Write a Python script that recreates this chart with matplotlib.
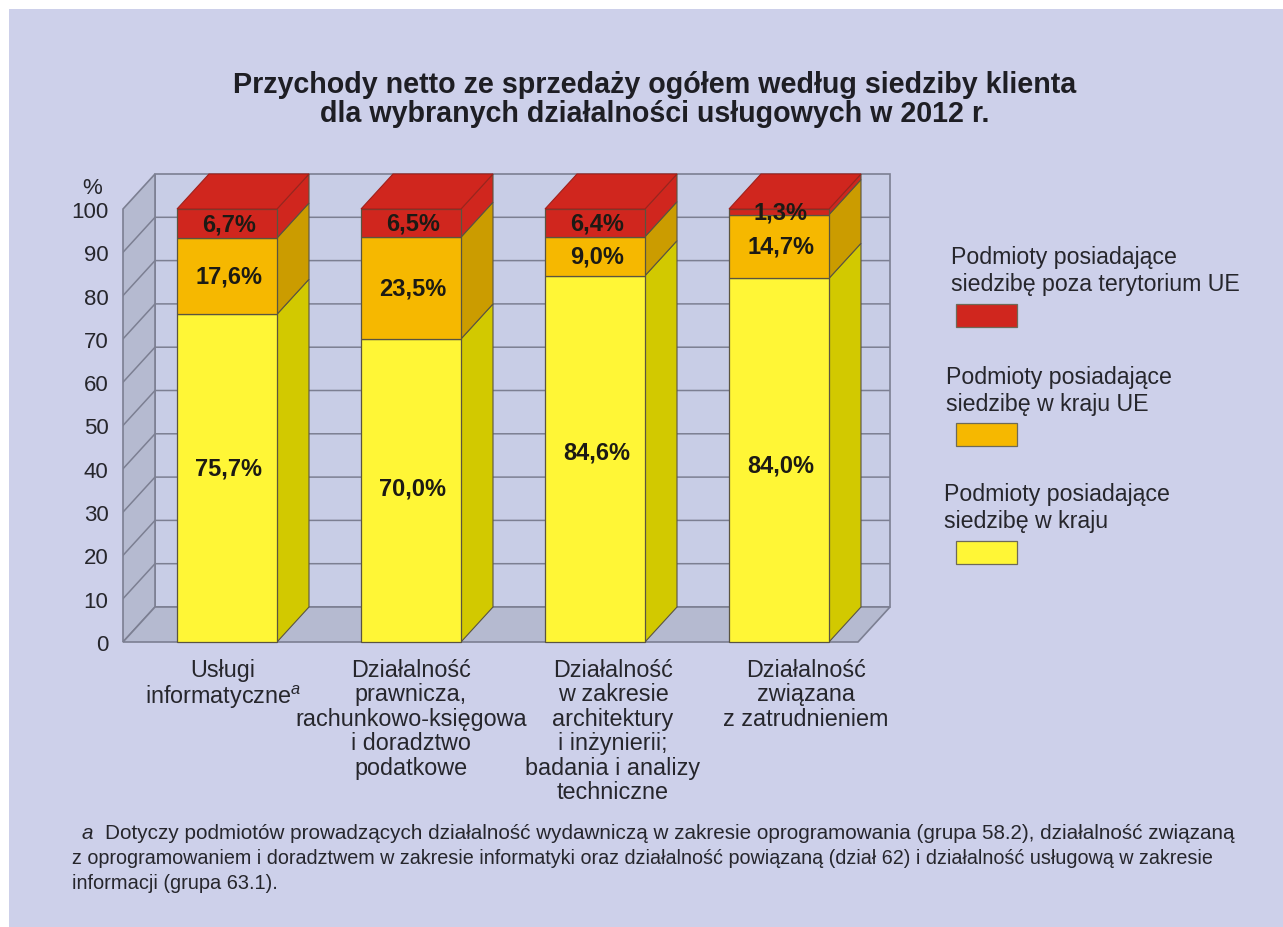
import matplotlib
matplotlib.use("Agg")
import numpy as np
import matplotlib.pyplot as plt
from matplotlib.patches import Rectangle
from matplotlib.transforms import ScaledTranslation

plt.rcParams["font.family"] = ["Liberation Sans", "DejaVu Sans"]
plt.rcParams["mathtext.fontset"] = "custom"
plt.rcParams["mathtext.it"] = "Liberation Sans:italic"
plt.rcParams["mathtext.rm"] = "Liberation Sans"

# data
categories = [
    "Usługi\ninformatyczne$^{a}$",
    "Działalność\nprawnicza,\nrachunkowo-księgowa\ni doradztwo\npodatkowe",
    "Działalność\nw zakresie\narchitektury\ni inżynierii;\nbadania i analizy\ntechniczne",
    "Działalność\nzwiązana\nz zatrudnieniem",
]
kraj = [75.7, 70.0, 84.6, 84.0]
kraj_ue = [17.6, 23.5, 9.0, 14.7]
poza_ue = [6.7, 6.5, 6.4, 1.3]
kraj_label_y = [40.2, 35.6, 43.9, 40.9]
yticks = list(range(0, 101, 10))
legend_labels = [
    "Podmioty posiadające\nsiedzibę poza terytorium UE",
    "Podmioty posiadające\nsiedzibę w kraju UE",
    "Podmioty posiadające\nsiedzibę w kraju",
]

W, H = 1283, 928
BG = "#cdd0ea"
WALL = "#c8cde6"
SIDE = "#b5bad0"
LINE = "#7c7f92"
EDGE = "#5a5440"
TXT = "#26262c"
YELLOW, YELLOW_S = "#fff636", "#d2c900"
ORANGE, ORANGE_S = "#f6b800", "#cb9c00"
RED, RED_S = "#d0261e", "#d0261e"

# axes scale: 184 px per category, 4.33 px per percent
PX_X, PX_Y = 184.0, 4.33
DX, DY = 32 / PX_X, 35 / PX_Y
BAR_W = 100 / PX_X


def fx(x):
    return x / W


def fy(y):
    return 1 - y / H


def put(x, y, s, **kw):
    kw.setdefault("color", TXT)
    kw.setdefault("va", "center")
    fig.text(fx(x), fy(y), s, **kw)


fig = plt.figure(figsize=(W / 100, H / 100), dpi=100, facecolor="white")
fig.patches.append(Rectangle((fx(9), 0), 1 - fx(9), fy(10), transform=fig.transFigure,
                             facecolor=BG, edgecolor="none", zorder=-10))

ax = fig.add_axes([fx(123), fy(643), fx(890 - 123), (643 - 175) / H])
ax.patch.set_visible(False)
for s in ax.spines.values():
    s.set_visible(False)
x = np.arange(len(categories))
xmin = (123 - 227) / PX_X
xmax = (890 - 227) / PX_X
ax.set_xlim(xmin, xmax)
ax.set_ylim(0, 468 / PX_Y)
x0 = xmin + DX    # back wall left
x1 = xmax - DX    # floor front right end
y_top = 100

# walls and floor
ax.fill([x0, xmax, xmax, x0], [DY, DY, y_top + DY, y_top + DY], fc=WALL, ec=LINE, lw=1.2, zorder=1, clip_on=False)
ax.fill([xmin, x0, x0, xmin], [0, DY, y_top + DY, y_top], fc=SIDE, ec=LINE, lw=1.2, zorder=1, clip_on=False)
ax.fill([xmin, x1, xmax, x0], [0, 0, DY, DY], fc=SIDE, ec=LINE, lw=1.2, zorder=1, clip_on=False)
for t in yticks[1:-1]:
    ax.plot([xmin, x0, xmax], [t, t + DY, t + DY], color=LINE, lw=1.1, zorder=2)

# bars with depth faces
kraj = np.array(kraj)
kraj_ue = np.array(kraj_ue)
poza_ue = np.array(poza_ue)
stacks = [
    (np.zeros(4), kraj, YELLOW, YELLOW_S),
    (kraj, kraj_ue, ORANGE, ORANGE_S),
    (kraj + kraj_ue, poza_ue, RED, RED_S),
]
for bottom, vals, front, side in stacks:
    ax.bar(x, vals, BAR_W, bottom=bottom, color=front, edgecolor=EDGE, linewidth=0.9, zorder=4, clip_on=False)
    for xi, b, v in zip(x, bottom, vals):
        r = xi + BAR_W / 2
        ax.fill([r, r + DX, r + DX, r], [b, b + DY, b + v + DY, b + v],
                fc=side, ec=EDGE, lw=0.8, zorder=3, clip_on=False)
for xi, b, v in zip(x, kraj + kraj_ue, poza_ue):
    t = b + v
    l, r = xi - BAR_W / 2, xi + BAR_W / 2
    ax.fill([l, r, r + DX, l + DX], [t, t, t + DY, t + DY], fc=RED, ec="#a0201a", lw=0.8, zorder=4, clip_on=False)

# value labels
for i, xi in enumerate(x):
    fs = dict(ha="center", va="center", fontsize=17, fontweight="bold", color="#1c1a14", zorder=6)
    ax.text(xi + 0.01, kraj_label_y[i], f"{kraj[i]:.1f}%".replace(".", ","), **fs)
    ax.text(xi + 0.01, kraj[i] + kraj_ue[i] / 2, f"{kraj_ue[i]:.1f}%".replace(".", ","), **fs)
    ax.text(xi + 0.01, kraj[i] + kraj_ue[i] + poza_ue[i] / 2, f"{poza_ue[i]:.1f}%".replace(".", ","), **fs)

# axis ticks
ax.set_yticks(yticks)
ax.tick_params(axis="y", length=0, pad=10.5, labelsize=16, labelcolor=TXT)
ax.set_xticks(x)
ax.set_xticklabels(categories, fontsize=16.8, color=TXT, linespacing=1.08, va="top")
ax.tick_params(axis="x", length=0, pad=11.5)
for lab, off in zip(ax.get_xticklabels(), [-4, 0, 18, 27]):
    lab.set_transform(lab.get_transform() + ScaledTranslation(off / 100, 0, fig.dpi_scale_trans))

put(92, 189, "%", ha="center", fontsize=16)

# title
put(655, 85, "Przychody netto ze sprzedaży ogółem według siedziby klienta",
    ha="center", fontsize=20.6, fontweight="bold", color="#1e1e24")
put(655, 114, "dla wybranych działalności usługowych w 2012 r.",
    ha="center", fontsize=20.6, fontweight="bold", color="#1e1e24")

# legend
for label, lx, ly, sy, col in zip(legend_labels, [951, 946, 944], [271, 391, 508],
                                  [305, 424, 542], [RED, ORANGE, YELLOW]):
    put(lx, ly, label, fontsize=16.7, linespacing=1.21)
    fig.patches.append(Rectangle((fx(956), fy(sy + 23)), 61 / W, 23 / H, transform=fig.transFigure,
                                 facecolor=col, edgecolor="#6e6a58", lw=0.9))

# footnote
put(82, 834, "a", fontsize=14.88, style="italic")
put(105, 834, "Dotyczy podmiotów prowadzących działalność wydawniczą w zakresie oprogramowania "
              "(grupa 58.2), działalność związaną", fontsize=14.88)
put(72, 859, "z oprogramowaniem i doradztwem w zakresie informatyki oraz działalność powiązaną "
             "(dział 62) i działalność usługową w zakresie", fontsize=14.24)
put(72, 884, "informacji (grupa 63.1).", fontsize=14.4)

fig.savefig("out.png", dpi=100, facecolor=fig.get_facecolor())
